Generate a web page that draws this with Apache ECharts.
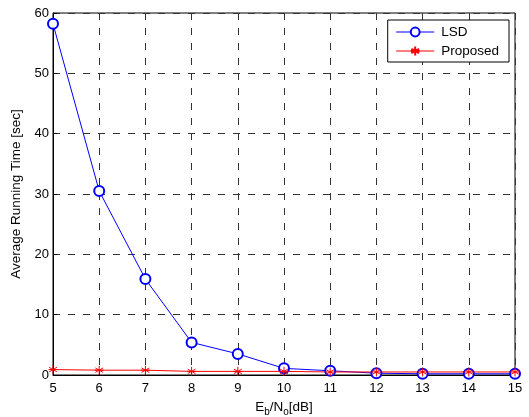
<!DOCTYPE html>
<html><head><meta charset="utf-8">
<script src="https://cdn.jsdelivr.net/npm/echarts@6/dist/echarts.min.js"></script>
<style>html,body{margin:0;padding:0;background:#fff}#c{width:529px;height:417px}</style>
</head><body><div id="c"></div>
<script>
const snr = [5, 6, 7, 8, 9, 10, 11, 12, 13, 14, 15];
const lsd = [58.2, 30.5, 15.9, 5.4, 3.5, 1.1, 0.7, 0.3, 0.2, 0.2, 0.2];
const proposed = [0.9, 0.8, 0.8, 0.6, 0.6, 0.6, 0.5, 0.5, 0.5, 0.5, 0.5];
const yTicks = [0, 10, 20, 30, 40, 50, 60];

const F = 'Liberation Sans, Arial, Helvetica, sans-serif';
const star = 'path://M0,-5L0,5M-4.33,-2.5L4.33,2.5M-4.33,2.5L4.33,-2.5M-5,0L5,0';
const chart = echarts.init(document.getElementById('c'));
const dashed = {show: true, lineStyle: {color: '#333', type: [7, 8], width: 1}};
chart.setOption({
  animation: false,
  grid: {left: 53, right: 14, top: 13, bottom: 42, show: true, borderColor: '#000', borderWidth: 1,
    backgroundColor: 'transparent', containLabel: false, outerBoundsMode: 'none'},
  legend: {
    right: 20, top: 20, orient: 'vertical', backgroundColor: '#fff', borderColor: '#000', borderWidth: 1,
    padding: [5, 10, 4, 8], itemGap: 5, itemWidth: 38, itemHeight: 11,
    lineStyle: {width: 1},
    textStyle: {fontFamily: F, fontSize: 13.5, color: '#000', padding: [0, 0, 0, 2]},
    data: ['LSD', 'Proposed']
  },
  xAxis: {
    type: 'value', min: 5, max: 15, interval: 1,
    name: '{a|E}{s|b}{a|/N}{s|o}{a|[dB]}', nameLocation: 'middle', nameGap: 23,
    nameTextStyle: {rich: {
      a: {fontFamily: F, fontSize: 13.5, color: '#000', verticalAlign: 'top', lineHeight: 15},
      s: {fontFamily: F, fontSize: 10, color: '#000', verticalAlign: 'top', lineHeight: 12, padding: [7, 0, 0, 0]}
    }},
    axisLine: {show: true, onZero: false, lineStyle: {color: '#000'}},
    axisTick: {show: true, inside: true, length: 4, lineStyle: {color: '#000'}},
    axisLabel: {fontFamily: F, fontSize: 13, color: '#000', margin: 7},
    splitLine: dashed
  },
  yAxis: {
    type: 'value', min: yTicks[0], max: yTicks[yTicks.length - 1], interval: 10,
    name: 'Average Running Time [sec]', nameLocation: 'middle', nameGap: 25,
    nameTextStyle: {fontFamily: F, fontSize: 13.5, color: '#000'},
    axisLine: {show: true, lineStyle: {color: '#000'}},
    axisTick: {show: true, inside: true, length: 4, lineStyle: {color: '#000'}},
    axisLabel: {fontFamily: F, fontSize: 13, color: '#000', margin: 4},
    splitLine: dashed
  },
  series: [
    {
      name: 'LSD', type: 'line', data: snr.map((x, i) => [x, lsd[i]]),
      symbol: 'emptyCircle', symbolSize: 10, showAllSymbol: true,
      lineStyle: {color: '#0000ff', width: 1},
      itemStyle: {color: '#0000ff', borderColor: '#0000ff', borderWidth: 1},
      emphasis: {disabled: true}
    },
    {
      name: 'Proposed', type: 'line', data: snr.map((x, i) => [x, proposed[i]]),
      symbol: star, symbolSize: 9, showAllSymbol: true,
      lineStyle: {color: '#ff0000', width: 1},
      itemStyle: {color: '#ff0000', borderColor: '#ff0000', borderWidth: 1},
      emphasis: {disabled: true}
    }
  ]
});
</script></body></html>
